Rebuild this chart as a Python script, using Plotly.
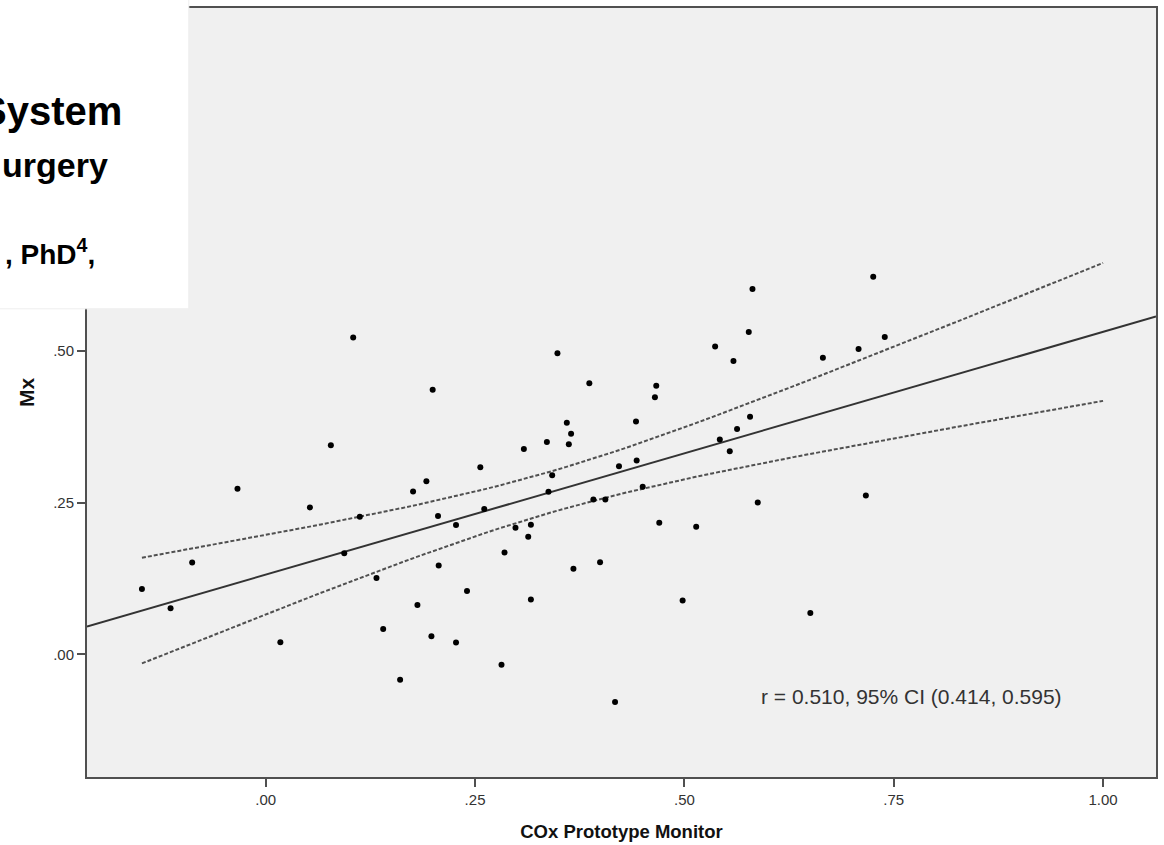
import numpy as np
import plotly.graph_objects as go

# COx Prototype Monitor (x) vs Mx (y)
cox = [-0.1478, -0.1136, -0.0878, -0.0337, 0.0175, 0.0528, 0.0778, 0.0938, 0.1045, 0.1124,
       0.1323, 0.1403, 0.1605, 0.1760, 0.1812, 0.1919, 0.1979, 0.1994, 0.2058, 0.2066,
       0.2273, 0.2273, 0.2404, 0.2563, 0.2610, 0.2816, 0.2852, 0.2983, 0.3083, 0.3135,
       0.3167, 0.3167, 0.3358, 0.3377, 0.3421, 0.3484, 0.3596, 0.3620, 0.3647, 0.3675,
       0.3865, 0.3913, 0.3993, 0.4056, 0.4172, 0.4219, 0.4422, 0.4430, 0.4502, 0.4648,
       0.4664, 0.4700, 0.4979, 0.5141, 0.5367, 0.5423, 0.5542, 0.5586, 0.5629, 0.5769,
       0.5784, 0.5876, 0.6504, 0.6654, 0.7080, 0.7393, 0.7167, 0.7255, 0.5813]
mx = [0.1077, 0.0759, 0.1513, 0.2726, 0.0202, 0.2421, 0.3443, 0.1667, 0.5218, 0.2267,
      0.1257, 0.0421, -0.0415, 0.2684, 0.0815, 0.2852, 0.0300, 0.4356, 0.2279, 0.1464,
      0.2131, 0.0197, 0.1044, 0.3082, 0.2393, -0.0169, 0.1677, 0.2087, 0.3382, 0.1939,
      0.2136, 0.0907, 0.3497, 0.2677, 0.2951, 0.4956, 0.3815, 0.3459, 0.3634, 0.1410,
      0.4464, 0.2552, 0.1520, 0.2552, -0.0782, 0.3098, 0.3836, 0.3192, 0.2759, 0.4234,
      0.4421, 0.2169, 0.0890, 0.2103, 0.5070, 0.3536, 0.3344, 0.4831, 0.3710, 0.5307,
      0.3913, 0.2503, 0.0684, 0.4885, 0.5028, 0.5225, 0.2618, 0.6218, 0.6016]

x_tickvals = [0.0, 0.25, 0.5, 0.75, 1.0]
x_ticktext = [".00", ".25", ".50", ".75", "1.00"]
y_tickvals = [0.0, 0.25, 0.5]
y_ticktext = [".00", ".25", ".50"]
x_range = [-0.2134, 1.0632]
y_range = [-0.2016, 1.0639]
stat_text = "r = 0.510, 95% CI (0.414, 0.595)"
t_crit = 1.996
ci_end = 1.0

xa = np.array(cox)
ya = np.array(mx)
n = len(xa)
slope, intercept = np.polyfit(xa, ya, 1)
resid = ya - (intercept + slope * xa)
s = np.sqrt(np.sum(resid ** 2) / (n - 2))
sxx = np.sum((xa - xa.mean()) ** 2)

fit_x = np.array(x_range)
fit_y = intercept + slope * fit_x
ci_x = np.linspace(xa.min(), ci_end, 60)
ci_mid = intercept + slope * ci_x
ci_h = t_crit * s * np.sqrt(1.0 / n + (ci_x - xa.mean()) ** 2 / sxx)

fig = go.Figure()
fig.add_trace(go.Scatter(x=ci_x, y=ci_mid + ci_h, mode="lines",
                         line=dict(color="#505050", width=2, dash="4px,2px"), showlegend=False))
fig.add_trace(go.Scatter(x=ci_x, y=ci_mid - ci_h, mode="lines",
                         line=dict(color="#505050", width=2, dash="4px,2px"), showlegend=False))
fig.add_trace(go.Scatter(x=fit_x, y=fit_y, mode="lines",
                         line=dict(color="#333333", width=2), showlegend=False))
fig.add_trace(go.Scatter(x=cox, y=mx, mode="markers",
                         marker=dict(color="black", size=6), showlegend=False))

L, R, T, B = 87, 6, 6, 67
W, H = 1164, 845
pw, ph = W - L - R, H - T - B


def px2paper_x(px):
    return (px - L) / pw


def px2paper_y(py):
    return 1 - (py - T) / ph


sans = "Liberation Sans, Arial, sans-serif"

fig.update_layout(
    width=W, height=H,
    margin=dict(l=L, r=R, t=T, b=B),
    paper_bgcolor="white",
    plot_bgcolor="#f0f0f0",
    font=dict(family=sans, color="#333333", size=14),
    xaxis=dict(range=x_range, tickvals=x_tickvals, ticktext=x_ticktext,
               showgrid=False, zeroline=False, showline=True, mirror=True,
               linecolor="#505050", linewidth=2, ticks="outside", ticklen=8,
               tickcolor="#505050", tickwidth=2,
               tickfont=dict(family=sans, size=15, color="#333333"),
               title=dict(text="<b>COx Prototype Monitor</b>",
                          font=dict(family=sans, size=18.5, color="#111111"), standoff=18)),
    yaxis=dict(range=y_range, tickvals=y_tickvals, ticktext=y_ticktext,
               showgrid=False, zeroline=False, showline=True, mirror=True,
               linecolor="#505050", linewidth=2, ticks="outside", ticklen=8,
               tickcolor="#505050", tickwidth=2,
               tickfont=dict(family=sans, size=15, color="#333333"),
               title=dict(text="<b>Mx</b>",
                          font=dict(family=sans, size=21, color="#111111"),
                          standoff=13)),
)

fig.add_annotation(xref="paper", yref="paper", x=px2paper_x(1066), y=px2paper_y(697),
                   xanchor="right", yanchor="middle", showarrow=False,
                   text=stat_text,
                   font=dict(family=sans, size=21, color="#333333"))

# white overlay box from the slide (covers the top-left corner of the chart)
fig.add_shape(type="rect", xref="paper", yref="paper",
              x0=px2paper_x(-5), x1=px2paper_x(189), y0=px2paper_y(308), y1=px2paper_y(-5),
              fillcolor="white", line=dict(color="#eeeeee", width=1), layer="above")

fig.add_annotation(xref="paper", yref="paper", x=px2paper_x(124), y=px2paper_y(109),
                   xanchor="right", yanchor="middle", showarrow=False,
                   text="<b>System</b>", font=dict(family=sans, size=40, color="black"))
fig.add_annotation(xref="paper", yref="paper", x=px2paper_x(110), y=px2paper_y(164),
                   xanchor="right", yanchor="middle", showarrow=False,
                   text="<b>urgery</b>", font=dict(family=sans, size=34, color="black"))
fig.add_annotation(xref="paper", yref="paper", x=px2paper_x(97), y=px2paper_y(251),
                   xanchor="right", yanchor="middle", showarrow=False,
                   text="<b>, PhD<sup>4</sup>,</b>", font=dict(family=sans, size=28, color="black"))

fig.write_html("out.html", config={"displayModeBar": False},
               post_script="document.body.style.margin='0px';document.body.style.overflow='hidden';")
